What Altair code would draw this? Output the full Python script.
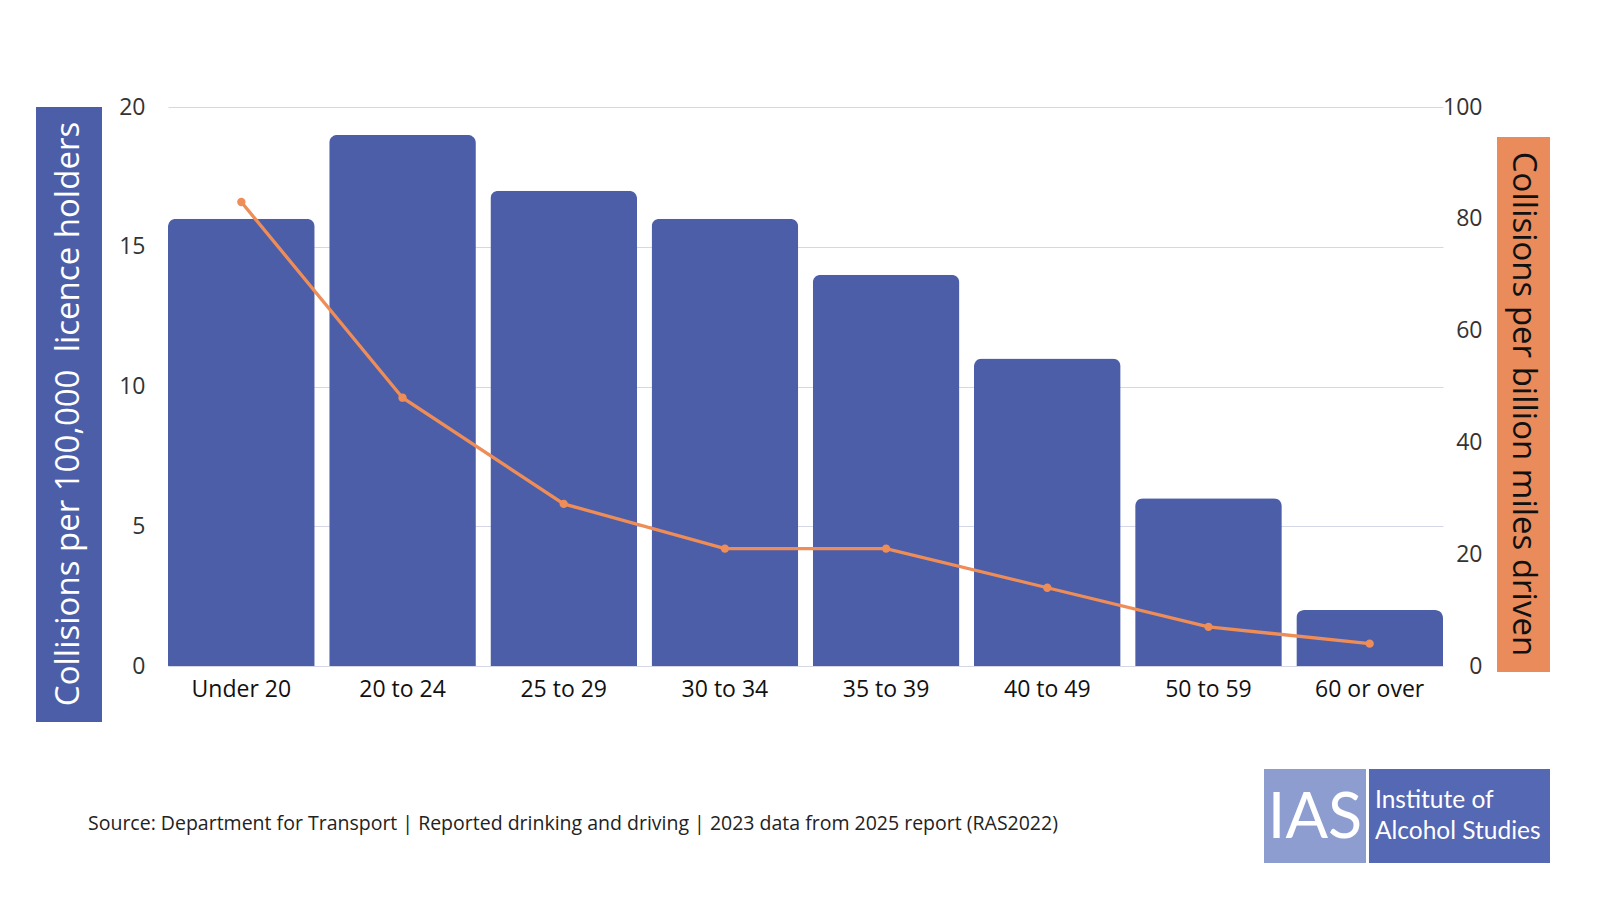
import altair as alt
import pandas as pd

categories = ["Under 20", "20 to 24", "25 to 29", "30 to 34", "35 to 39", "40 to 49", "50 to 59", "60 or over"]
per_licence = [16, 19, 17, 16, 14, 11, 6, 2]
per_billion_miles = [83, 48, 29, 21, 21, 14, 7, 4]

left_title = "Collisions per 100,000\u00a0 licence holders"
right_title = "Collisions per billion miles driven"
source_text = "Source: Department for Transport | Reported drinking and driving | 2023 data from 2025 report (RAS2022)"

FONT = "Open Sans"
BLUE = "#4C5EA8"
ORANGE = "#EE8D58"

df = pd.DataFrame({"age": categories, "lic": per_licence, "miles": per_billion_miles})
one = pd.DataFrame({"k": [0]})

base = alt.Chart(df)
xenc = alt.X("age:N", sort=categories, title=None,
             scale=alt.Scale(paddingInner=0.09, paddingOuter=0.0),
             axis=alt.Axis(labelAngle=0, labelFontSize=23, labelColor="#111", labelFont=FONT,
                           labelPadding=12, ticks=False, domain=False))

bars = base.mark_bar(color=BLUE, cornerRadiusTopLeft=8, cornerRadiusTopRight=8).encode(
    x=xenc,
    y=alt.Y("lic:Q", title=None, scale=alt.Scale(domain=[0, 20]),
            axis=alt.Axis(values=[0, 5, 10, 15, 20], labelFontSize=23, labelColor="#333", labelFont=FONT,
                          labelPadding=23, ticks=False, domain=False, grid=True,
                          gridColor="#D6D7E6", gridWidth=1))
)

line = base.mark_line(color=ORANGE, strokeWidth=3.3,
                      point=alt.OverlayMarkDef(color=ORANGE, size=70, filled=True)).encode(
    x=alt.X("age:N", sort=categories),
    y=alt.Y("miles:Q", title=None, scale=alt.Scale(domain=[0, 100]),
            axis=alt.Axis(orient="right", values=[0, 20, 40, 60, 80, 100], labelFontSize=23,
                          labelColor="#333", labelFont=FONT, labelAlign="right", labelPadding=39,
                          ticks=False, domain=False, grid=False))
)

def box(x1, x2, y1, y2, color):
    return alt.Chart(one).mark_rect(color=color).encode(
        x=alt.value(x1), x2=alt.value(x2), y=alt.value(y1), y2=alt.value(y2))

def label(text, x, y, size, color, angle=0, align="center", baseline="middle", font=FONT):
    return alt.Chart(pd.DataFrame({"t": [text]})).mark_text(
        fontSize=size, color=color, angle=angle, align=align, baseline=baseline, font=font).encode(
        x=alt.value(x), y=alt.value(y), text="t:N")

left_box = box(-132, -66, 0, 615, BLUE)
left_lbl = label(left_title, -99, 307, 33, "white", angle=270)
right_box = box(1329, 1382, 30, 565, "#E98B5B")
right_lbl = label(right_title, 1355, 297, 33, "#111", angle=90)
src = label(source_text, -80, 717, 19.5, "#222", align="left")
logo_l = box(1096, 1198, 662, 756, "#8E9DCF")
logo_r = box(1201, 1382, 662, 756, "#5568B3")
logo_ias = label("IAS", 1147, 712, 63, "white", font="Lato")
logo_t1 = label("Institute of", 1207, 694, 24.5, "white", align="left", font="Lato")
logo_t2 = label("Alcohol Studies", 1207, 725, 24.5, "white", align="left", font="Lato")

chart = alt.layer(
    bars, line, left_box, left_lbl, right_box, right_lbl, src, logo_l, logo_r, logo_ias, logo_t1, logo_t2
).resolve_scale(y="independent").properties(
    width=1275, height=559,
    autosize=alt.AutoSizeParams(type="none"),
    padding={"left": 160, "top": 99, "right": 125, "bottom": 200},
    background="white",
).configure_view(stroke=None)

chart.save("out.html", embed_options={"renderer": "svg", "actions": False})
